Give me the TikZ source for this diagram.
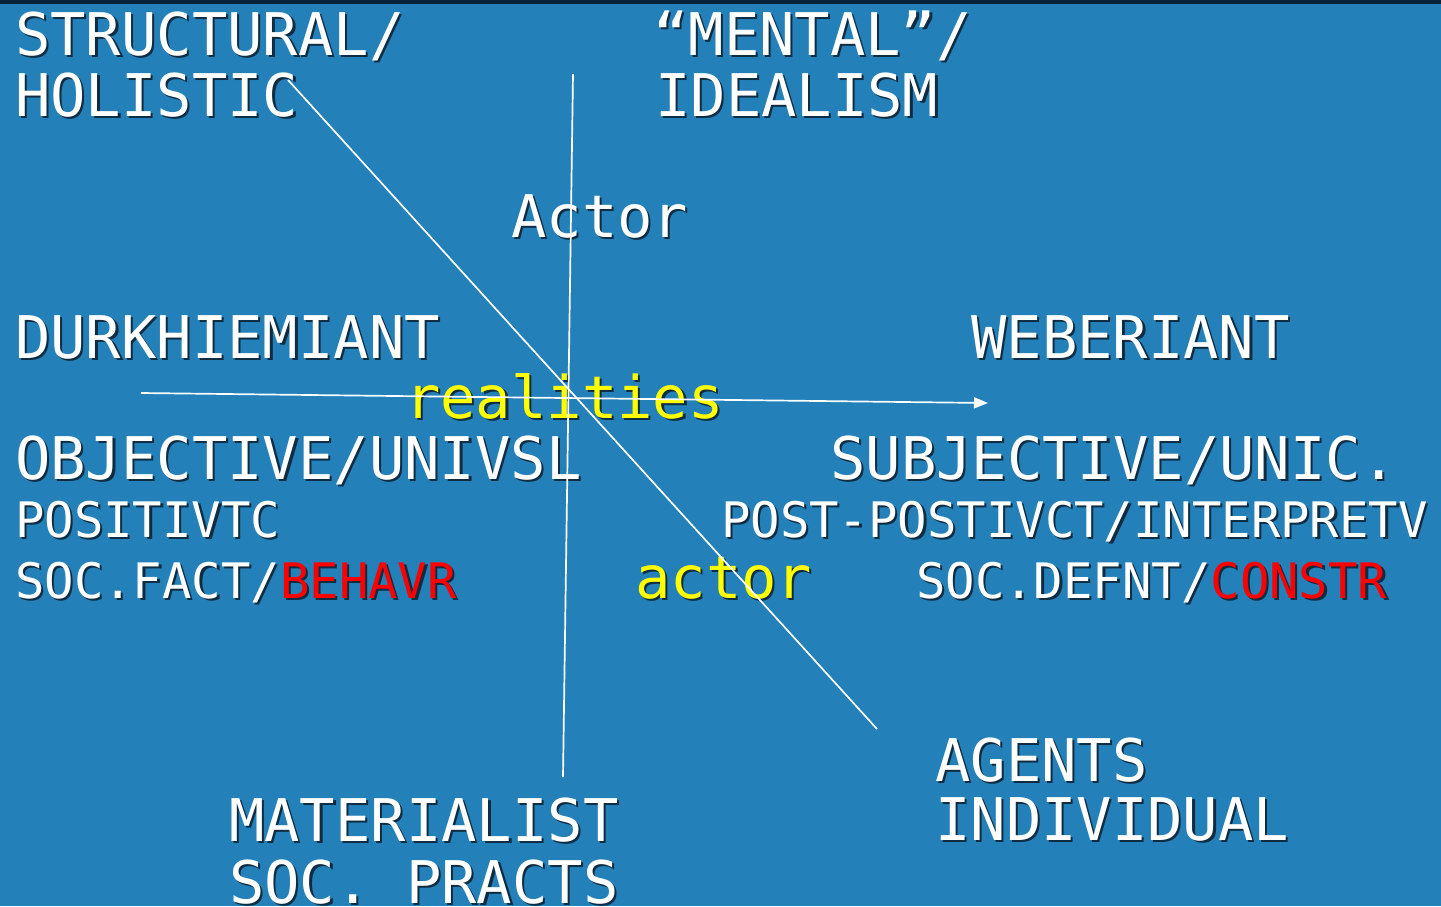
\documentclass[tikz,border=0pt]{standalone}
\usepackage{fontspec}
\newfontfamily\monof{DejaVu Sans Mono}
\usetikzlibrary{arrows.meta}
\definecolor{bg}{RGB}{35,128,185}
\definecolor{topbar}{RGB}{8,36,60}
\definecolor{shadowc}{RGB}{14,44,66}
\definecolor{ylw}{RGB}{255,255,0}
\definecolor{rd}{RGB}{255,0,0}
\newcommand{\shdc}[2]{\makebox[0pt][l]{\kern2.2pt\raisebox{-2.2pt}{\textcolor{shadowc}{#2}}}\textcolor{#1}{#2}}
\begin{document}
\begin{tikzpicture}[x=1pt,y=-1pt,
  big/.style={anchor=base west, inner sep=0pt, font=\monof\fontsize{58.8}{61}\selectfont},
  sml/.style={anchor=base west, inner sep=0pt, font=\monof\fontsize{48.9}{52}\selectfont},
  axisline/.style={white, line width=1.7pt}]
\useasboundingbox (0,0) rectangle (1441,906);
\clip (0,0) rectangle (1441,906);
\fill[bg] (0,0) rectangle (1441,906);
\fill[topbar] (0,0) rectangle (1441,4);

% top left
\node[big] (struct) at (15,55) {\shdc{white}{STRUCTURAL/}};
\node[big] (holis) at (15,116) {\shdc{white}{HOLISTIC}};
% top right
\node[big] (mental) at (653,55) {\shdc{white}{“MENTAL”/}};
\node[big] (ideal) at (655,116) {\shdc{white}{IDEALISM}};
% Actor
\node[big] (actorU) at (511,237) {\shdc{white}{Actor}};
% middle
\node[big] (durk) at (15,358) {\shdc{white}{DURKHIEMIANT}};
\node[big] (weber) at (971,358) {\shdc{white}{WEBERIANT}};
\node[big] (real) at (405,418) {\shdc{ylw}{realities}};
\node[big] (obj) at (15,479) {\shdc{white}{OBJECTIVE/UNIVSL}};
\node[big] (subj) at (830,479) {\shdc{white}{SUBJECTIVE/UNIC.}};
\node[sml] (posit) at (15,537) {\shdc{white}{POSITIVTC}};
\node[sml] (post) at (721,537) {\shdc{white}{POST-POSTIVCT/INTERPRETV}};
\node[sml] (socf) at (15,598) {\shdc{white}{SOC.FACT/}\shdc{rd}{BEHAVR}};
\node[sml] (socd) at (916,598) {\shdc{white}{SOC.DEFNT/}\shdc{rd}{CONSTR}};
\node[big] (actorL) at (635,598) {\shdc{ylw}{actor}};
% bottom
\node[big] (agents) at (935,781) {\shdc{white}{AGENTS}};
\node[big] (indiv) at (935,840) {\shdc{white}{INDIVIDUAL}};
\node[big] (mater) at (229,841) {\shdc{white}{MATERIALIST}};
\node[big] (pract) at (229,903) {\shdc{white}{SOC. PRACTS}};

% axes
\coordinate (vtop) at (573,74);
\coordinate (vbot) at (563,777);
\coordinate (dtop) at (288,80);
\coordinate (dbot) at (877,729);
\coordinate (hleft) at (141,393);
\coordinate (hright) at (988,403);
\draw[axisline] (vtop) -- (vbot);
\draw[axisline] (dtop) -- (dbot);
\draw[axisline, -{Triangle[length=14pt,width=11pt]}] (hleft) -- (hright);
\end{tikzpicture}
\end{document}
